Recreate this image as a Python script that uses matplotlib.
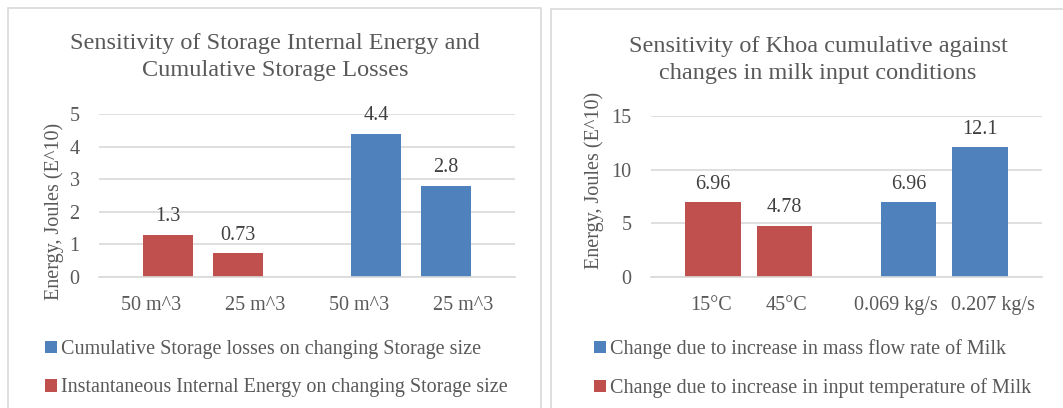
import matplotlib.pyplot as plt
from matplotlib.patches import Rectangle

plt.rcParams['font.family'] = ['Liberation Serif', 'DejaVu Serif']

BLUE = "#4F81BD"
RED = "#C0504D"
GREY = "#595959"
GRID = "#d9d9d9"

# left chart
size_labels = ["50 m^3", "25 m^3", "50 m^3", "25 m^3"]
internal_energy = [1.3, 0.73]
storage_losses = [4.4, 2.8]

# right chart
milk_labels = ["15\u00b0C", "45\u00b0C", "0.069 kg/s", "0.207 kg/s"]
temp_change = [6.96, 4.78]
flow_change = [6.96, 12.1]

W, H = 1063, 408
FS = 14.5
fig = plt.figure(figsize=(W / 100, H / 100), dpi=100)

# panel borders
fig.add_artist(Rectangle((8 / W, -0.05), 533 / W, 1.05 - 8 / H, transform=fig.transFigure,
                         fill=False, edgecolor=GRID, lw=1.2))
fig.add_artist(Rectangle((551 / W, -0.05), 0.6, 1.05 - 9 / H, transform=fig.transFigure,
                         fill=False, edgecolor=GRID, lw=1.2))


def style(ax, ymax, step):
    ax.set_ylim(0, ymax)
    ax.set_xlim(-0.5, 3.5)
    ax.set_yticks(range(0, ymax + 1, step))
    ax.grid(axis="y", color=GRID, lw=1.2)
    ax.set_axisbelow(True)
    for s in ["top", "right", "left"]:
        ax.spines[s].set_visible(False)
    ax.spines["bottom"].set_color(GRID)
    ax.spines["bottom"].set_linewidth(1.2)
    ax.tick_params(length=0, colors=GREY, labelsize=FS)
    ax.tick_params(axis="x", pad=14)
    ax.tick_params(axis="y", pad=14)
    ax.set_ylabel("Energy, Joules (E^10)", color=GREY, fontsize=FS)


# ---- left
ax1 = fig.add_axes([99 / W, 131 / H, 416 / W, 163 / H])
d, w = 0.165, 0.48
r = ax1.bar([0 + d, 1 - d], internal_energy, w, color=RED,
            label="Instantaneous Internal Energy on changing Storage size")
b = ax1.bar([2 + d, 3 - d], storage_losses, w, color=BLUE,
            label="Cumulative Storage losses on changing Storage size")
ax1.bar_label(r, labels=[str(v) for v in internal_energy], padding=6, fontsize=FS, color="#404040")
ax1.bar_label(b, labels=[str(v) for v in storage_losses], padding=6, fontsize=FS, color="#404040")
style(ax1, 5, 1)
ax1.set_xticks(range(4))
ax1.set_xticklabels(size_labels)
ax1.yaxis.set_label_coords(-0.085, 0.40)
fig.text(275 / W, 1 - 57 / H, "Sensitivity of Storage Internal Energy and\nCumulative Storage Losses",
         ha="center", va="center", fontsize=17.5, color=GREY, linespacing=1.38)
fig.legend([b, r], [b.get_label(), r.get_label()], loc="upper left",
           bbox_to_anchor=(27 / W, 1 - 322 / H), frameon=False, fontsize=FS,
           handlelength=0.6, handleheight=0.6, handletextpad=0.2, labelspacing=0.95,
           labelcolor=GREY)

# ---- right
ax2 = fig.add_axes([651 / W, 131 / H, 391 / W, 161 / H])
d, w = 0.135, 0.57
r2 = ax2.bar([0 + d, 1 - d], temp_change, w, color=RED,
             label="Change due to increase in input temperature of Milk")
b2 = ax2.bar([2 + d, 3 - d], flow_change, w, color=BLUE,
             label="Change due to increase in mass flow rate of Milk")
ax2.bar_label(r2, labels=[str(v) for v in temp_change], padding=6, fontsize=FS, color="#404040")
ax2.bar_label(b2, labels=[str(v) for v in flow_change], padding=6, fontsize=FS, color="#404040")
style(ax2, 15, 5)
ax2.set_xticks([0.11, 0.89, 2, 3])
ax2.set_xticklabels(milk_labels)
ax2.yaxis.set_label_coords(-0.12, 0.6)
fig.text(818 / W, 1 - 60 / H, "Sensitivity of Khoa cumulative against\nchanges in milk input conditions",
         ha="center", va="center", fontsize=17.5, color=GREY, linespacing=1.38)
fig.legend([b2, r2], [b2.get_label(), r2.get_label()], loc="upper left",
           bbox_to_anchor=(576 / W, 1 - 321 / H), frameon=False, fontsize=FS,
           handlelength=0.6, handleheight=0.6, handletextpad=0.2, labelspacing=0.95,
           labelcolor=GREY)

fig.savefig("out.png", dpi=100)
